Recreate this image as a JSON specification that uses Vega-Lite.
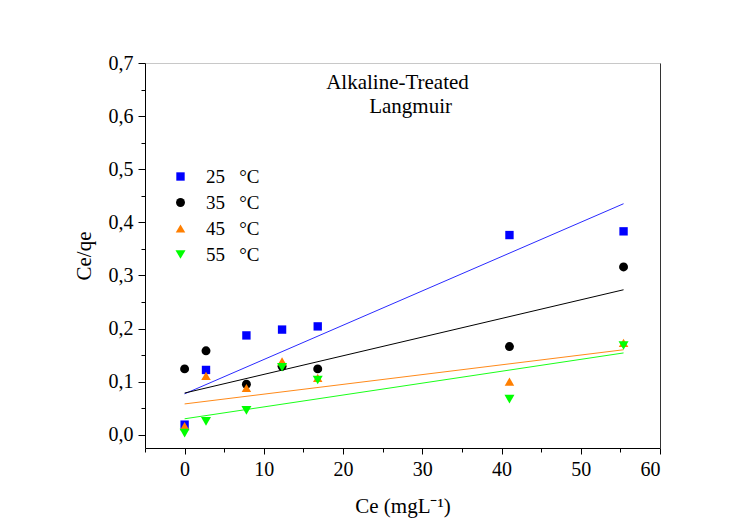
{
  "$schema": "https://vega.github.io/schema/vega-lite/v6.json",
  "width": 515,
  "height": 385,
  "autosize": "none",
  "padding": {"left": 145, "top": 63, "right": 89, "bottom": 83},
  "background": "white",
  "config": {
    "view": {"stroke": null},
    "font": "Liberation Serif",
    "axis": {"grid": false, "domainColor": "black", "tickColor": "black", "labelColor": "black", "titleColor": "black", "labelFont": "Liberation Serif", "titleFont": "Liberation Serif", "titleFontWeight": "normal"},
    "legend": {"orient": "none", "legendX": 26, "legendY": 104, "padding": 0, "labelFont": "Liberation Serif", "labelFontSize": 19, "labelColor": "black", "labelOffset": 16, "rowPadding": 6, "symbolStrokeWidth": 0}
  },
  "title": {
    "text": ["Alkaline-Treated", "\u200b\u00a0\u00a0\u00a0\u00a0\u00a0Langmuir"],
    "font": "Liberation Serif",
    "fontSize": 21,
    "fontWeight": "normal",
    "color": "black",
    "anchor": "middle",
    "offset": -64,
    "dx": -5,
    "lineHeight": 24
  },
  "datasets": {
    "pts": [
      {"Ce": 0, "Ceqe": 0.019, "T": "25\u00a0\u00a0\u00a0°C"},
      {"Ce": 2.7, "Ceqe": 0.122, "T": "25\u00a0\u00a0\u00a0°C"},
      {"Ce": 7.8, "Ceqe": 0.187, "T": "25\u00a0\u00a0\u00a0°C"},
      {"Ce": 12.3, "Ceqe": 0.198, "T": "25\u00a0\u00a0\u00a0°C"},
      {"Ce": 16.8, "Ceqe": 0.204, "T": "25\u00a0\u00a0\u00a0°C"},
      {"Ce": 41, "Ceqe": 0.376, "T": "25\u00a0\u00a0\u00a0°C"},
      {"Ce": 55.4, "Ceqe": 0.383, "T": "25\u00a0\u00a0\u00a0°C"},
      {"Ce": 0, "Ceqe": 0.124, "T": "35\u00a0\u00a0\u00a0°C"},
      {"Ce": 2.7, "Ceqe": 0.158, "T": "35\u00a0\u00a0\u00a0°C"},
      {"Ce": 7.8, "Ceqe": 0.095, "T": "35\u00a0\u00a0\u00a0°C"},
      {"Ce": 12.3, "Ceqe": 0.129, "T": "35\u00a0\u00a0\u00a0°C"},
      {"Ce": 16.8, "Ceqe": 0.124, "T": "35\u00a0\u00a0\u00a0°C"},
      {"Ce": 41, "Ceqe": 0.166, "T": "35\u00a0\u00a0\u00a0°C"},
      {"Ce": 55.4, "Ceqe": 0.316, "T": "35\u00a0\u00a0\u00a0°C"},
      {"Ce": 0, "Ceqe": 0.016, "T": "45\u00a0\u00a0\u00a0°C"},
      {"Ce": 2.7, "Ceqe": 0.111, "T": "45\u00a0\u00a0\u00a0°C"},
      {"Ce": 7.8, "Ceqe": 0.088, "T": "45\u00a0\u00a0\u00a0°C"},
      {"Ce": 12.3, "Ceqe": 0.138, "T": "45\u00a0\u00a0\u00a0°C"},
      {"Ce": 16.8, "Ceqe": 0.107, "T": "45\u00a0\u00a0\u00a0°C"},
      {"Ce": 41, "Ceqe": 0.1, "T": "45\u00a0\u00a0\u00a0°C"},
      {"Ce": 55.4, "Ceqe": 0.173, "T": "45\u00a0\u00a0\u00a0°C"},
      {"Ce": 0, "Ceqe": 0.003, "T": "55\u00a0\u00a0\u00a0°C"},
      {"Ce": 2.7, "Ceqe": 0.025, "T": "55\u00a0\u00a0\u00a0°C"},
      {"Ce": 7.8, "Ceqe": 0.046, "T": "55\u00a0\u00a0\u00a0°C"},
      {"Ce": 12.3, "Ceqe": 0.127, "T": "55\u00a0\u00a0\u00a0°C"},
      {"Ce": 16.8, "Ceqe": 0.103, "T": "55\u00a0\u00a0\u00a0°C"},
      {"Ce": 41, "Ceqe": 0.067, "T": "55\u00a0\u00a0\u00a0°C"},
      {"Ce": 55.4, "Ceqe": 0.168, "T": "55\u00a0\u00a0\u00a0°C"}
    ],
    "fit": [
      {"Ce": 0, "Ceqe": 0.077, "series": "25"},
      {"Ce": 55.4, "Ceqe": 0.435, "series": "25"},
      {"Ce": 0, "Ceqe": 0.0785, "series": "35"},
      {"Ce": 55.4, "Ceqe": 0.273, "series": "35"},
      {"Ce": 0, "Ceqe": 0.058, "series": "45"},
      {"Ce": 55.4, "Ceqe": 0.16, "series": "45"},
      {"Ce": 0, "Ceqe": 0.03, "series": "55"},
      {"Ce": 55.4, "Ceqe": 0.154, "series": "55"}
    ]
  },
  "resolve": {"axis": {"x": "independent", "y": "independent"}},
  "layer": [
    {
      "data": {"name": "fit"},
      "mark": {"type": "line", "strokeWidth": 1, "strokeOpacity": 0},
      "encoding": {
        "x": {"field": "Ce", "type": "quantitative", "scale": {"domain": [-5, 60], "nice": false, "zero": false},
              "axis": {"orient": "top", "domainColor": "#c8c8c8", "ticks": false, "labels": false, "title": null}},
        "y": {"field": "Ceqe", "type": "quantitative", "scale": {"domain": [-0.025, 0.7], "nice": false, "zero": false},
              "axis": {"orient": "right", "domainColor": "#333333", "ticks": false, "labels": false, "title": null}},
        "detail": {"field": "series"}
      }
    },
    {
      "data": {"name": "fit"},
      "mark": {"type": "line", "strokeWidth": 1},
      "encoding": {
        "x": {"field": "Ce", "type": "quantitative",
              "axis": {"orient": "bottom", "values": [-5, 5, 15, 25, 35, 45, 55], "tickSize": 4, "labels": false, "domain": false, "title": null}},
        "y": {"field": "Ceqe", "type": "quantitative",
              "axis": {"orient": "left", "values": [0.05, 0.15, 0.25, 0.35, 0.45, 0.55, 0.65], "tickSize": 4, "labels": false, "domain": false, "title": null}},
        "stroke": {"field": "series", "type": "nominal", "legend": null,
                   "scale": {"domain": ["25", "35", "45", "55"], "range": ["#2a2aff", "#000000", "#ff8a1a", "#1aff1a"]}}
      }
    },
    {
      "data": {"name": "pts"},
      "mark": {"type": "point", "filled": true, "opacity": 1},
      "encoding": {
        "x": {"field": "Ce", "type": "quantitative",
              "axis": {"orient": "bottom", "values": [0, 10, 20, 30, 40, 50, 60], "tickSize": 6, "labelFontSize": 20, "labelPadding": 5,
                       "title": "Ce (mgL\u207b\u00b9)", "titleFontSize": 21, "titlePadding": 16}},
        "y": {"field": "Ceqe", "type": "quantitative",
              "axis": {"orient": "left", "values": [0, 0.1, 0.2, 0.3, 0.4, 0.5, 0.6, 0.7], "tickSize": 7, "labelFontSize": 20, "labelPadding": 5,
                       "labelExpr": "replace(format(datum.value, '.1f'), '.', ',')",
                       "title": "Ce/qe", "titleFontSize": 21, "titlePadding": 14}},
        "color": {"field": "T", "type": "nominal", "title": null,
                  "scale": {"domain": ["25\u00a0\u00a0\u00a0°C", "35\u00a0\u00a0\u00a0°C", "45\u00a0\u00a0\u00a0°C", "55\u00a0\u00a0\u00a0°C"], "range": ["#0000ff", "#000000", "#ff7f00", "#00ff00"]}},
        "shape": {"field": "T", "type": "nominal", "title": null,
                  "scale": {"domain": ["25\u00a0\u00a0\u00a0°C", "35\u00a0\u00a0\u00a0°C", "45\u00a0\u00a0\u00a0°C", "55\u00a0\u00a0\u00a0°C"], "range": ["square", "circle", "triangle-up", "triangle-down"]}},
        "size": {"field": "T", "type": "ordinal", "title": null,
                 "scale": {"domain": ["25\u00a0\u00a0\u00a0°C", "35\u00a0\u00a0\u00a0°C", "45\u00a0\u00a0\u00a0°C", "55\u00a0\u00a0\u00a0°C"], "range": [70, 100, 145, 145]}}
      }
    }
  ]
}
